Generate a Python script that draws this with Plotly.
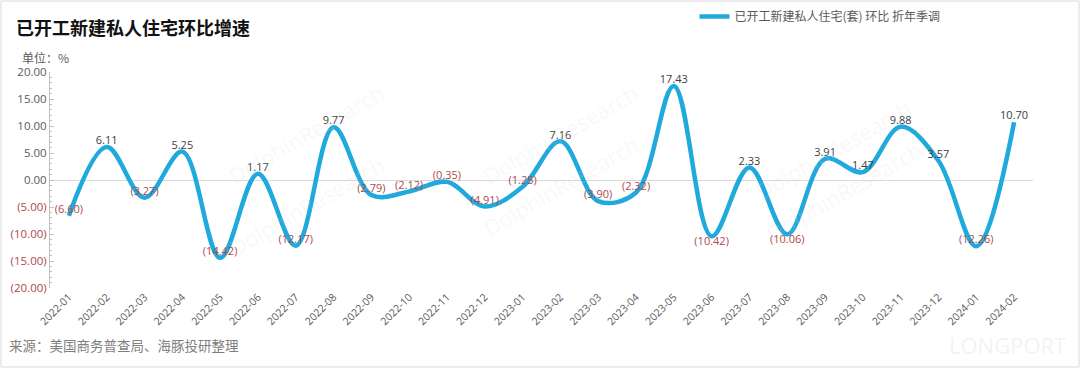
import plotly.graph_objects as go

months = ["2022-01","2022-02","2022-03","2022-04","2022-05","2022-06","2022-07","2022-08",
          "2022-09","2022-10","2022-11","2022-12","2023-01","2023-02","2023-03","2023-04",
          "2023-05","2023-06","2023-07","2023-08","2023-09","2023-10","2023-11","2023-12",
          "2024-01","2024-02"]
values = [-6.60, 6.11, -3.27, 5.25, -14.42, 1.17, -12.17, 9.77,
          -2.79, -2.12, -0.35, -4.91, -1.25, 7.16, -3.90, -2.32,
          17.43, -10.42, 2.33, -10.06, 3.91, 1.47, 9.88, 3.57,
          -12.26, 10.70]
below_labels = ["2023-06", "2023-08"]
ytick_vals = [20, 15, 10, 5, 0, -5, -10, -15, -20]

RED = "#b0474a"
GRAY = "#595959"
BLUE = "#1fa9dc"

W, H = 1080, 368
ML, MR, MT, MB = 50, 47, 72, 80
PW, PH = W - ML - MR, H - MT - MB

def px(x):
    return (x - ML) / PW

def py(y):
    return (H - MB - y) / PH

def fmt(v):
    return f"({abs(v):.2f})" if v < 0 else f"{v:.2f}"

labels = [fmt(v) for v in values]
lab_colors = [RED if v < 0 else "#404040" for v in values]
positions = ["bottom center" if m in below_labels else "top center" for m in months]
ticktext = [f'<span style="color:{RED if v < 0 else GRAY}">{fmt(v)}</span>' for v in ytick_vals]

fig = go.Figure()
fig.add_trace(go.Scatter(
    x=months, y=values, mode="lines+text",
    line=dict(color=BLUE, width=4.5, shape="spline", smoothing=1.0),
    text=labels, textposition=positions,
    textfont=dict(color=lab_colors, size=11, family="Open Sans, Noto Sans CJK SC"),
    name="已开工新建私人住宅(套) 环比 折年季调",
    cliponaxis=False,
))

# faint watermarks
for (wx, wy) in [(220, 75), (560, 75), (920, 90), (220, 265), (560, 245), (930, 250)]:
    fig.add_annotation(x=px(wx), y=py(wy), xref="paper", yref="paper", text="DolphinResearch",
                       showarrow=False, textangle=-30,
                       font=dict(size=22, color="rgba(215,215,215,0.18)", family="Open Sans"))
fig.add_annotation(x=px(1068), y=py(345), xref="paper", yref="paper", text="LONGPORT",
                   showarrow=False, xanchor="right", yanchor="middle",
                   font=dict(size=22, color="rgba(225,225,225,0.4)", family="Open Sans"))

fig.add_annotation(x=px(14), y=py(27), xref="paper", yref="paper", xanchor="left",
                   yanchor="middle", text="<b>已开工新建私人住宅环比增速</b>", showarrow=False,
                   font=dict(size=18, color="#111111", family="Noto Sans CJK SC"))
fig.add_annotation(x=px(21), y=py(57), xref="paper", yref="paper", xanchor="left",
                   yanchor="middle", text="单位：%", showarrow=False, borderpad=0,
                   font=dict(size=12, color=GRAY, family="Noto Sans CJK SC"))
fig.add_annotation(x=px(7), y=py(345), xref="paper", yref="paper", xanchor="left",
                   yanchor="middle", text="来源：美国商务普查局、海豚投研整理", showarrow=False,
                   font=dict(size=13.5, color="#7f7f7f", family="Noto Sans CJK SC"))
fig.add_shape(type="rect", xref="paper", yref="paper", x0=px(1), x1=px(W - 1),
              y0=py(H - 1), y1=py(1), line=dict(color="#d9d9d9", width=1))

fig.update_layout(
    width=W, height=H,
    margin=dict(l=ML, r=MR, t=MT, b=MB, autoexpand=False),
    paper_bgcolor="white", plot_bgcolor="white",
    font=dict(family="Noto Sans CJK SC, Open Sans", color=GRAY),
    showlegend=True,
    legend=dict(orientation="h", x=px(820), xanchor="center", y=py(2), yanchor="top",
                font=dict(size=12, color=GRAY), bgcolor="rgba(0,0,0,0)"),
    xaxis=dict(type="category", range=[-0.5, 25.5], showgrid=False, showline=False,
               ticks="", tickangle=-45, tickfont=dict(size=10.5, color=GRAY, family="Open Sans"),
               zeroline=False),
    yaxis=dict(range=[-20, 20], tickvals=ytick_vals, ticktext=ticktext, showgrid=False,
               showline=True, linecolor="#bfbfbf", linewidth=1, ticks="inside", ticklen=4,
               tickcolor="#bfbfbf",
               minor=dict(dtick=1, ticks="inside", ticklen=2, tickcolor="#bfbfbf"),
               zeroline=True, zerolinecolor="#d9d9d9", zerolinewidth=1.2,
               tickfont=dict(size=11.5, family="Open Sans")),
)
fig.write_html("out.html", config={"displayModeBar": False},
               post_script="document.body.style.margin='0';")
